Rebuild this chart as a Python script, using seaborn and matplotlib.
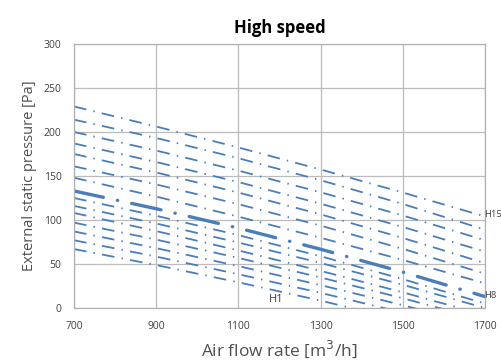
import seaborn as sns
import matplotlib.pyplot as plt
import pandas as pd

# air flow points [m3/h]
flow = [700, 900, 1100, 1300, 1500, 1700]

# pressure curves [Pa], H1 (bottom) .. H15 (top)
h1 = [67, 48.8, 29.2, 8.4, -14.2, -37]
h2 = [77, 58.4, 38.4, 17.2, -5.2, -29]
h3 = [87, 68, 47.6, 26, 3.2, -21]
h4 = [97, 77.7, 56.9, 34.7, 11.1, -14]
h5 = [108, 87.4, 65.4, 42.2, 17.8, -8]
h6 = [116, 96, 74.4, 51.2, 26.4, 0]
h7 = [125, 104.8, 82.8, 58.8, 32.8, 5]
h8 = [133, 112.8, 90.8, 66.8, 40.8, 13]
h9 = [148, 126.6, 103.8, 79.8, 54.6, 28]
h10 = [161, 140.4, 118, 93.6, 67.2, 39]
h11 = [175, 154, 131.2, 106.4, 79.6, 51]
h12 = [187, 165.9, 143.1, 118.5, 92.1, 64]
h13 = [200, 178.9, 156.1, 131.5, 105.1, 77]
h14 = [214, 193.2, 170.2, 145.2, 118.2, 89]
h15 = [229, 206.2, 182.4, 157.4, 131.2, 104]

curves = {'H1': h1, 'H2': h2, 'H3': h3, 'H4': h4, 'H5': h5, 'H6': h6,
          'H7': h7, 'H8': h8, 'H9': h9, 'H10': h10, 'H11': h11,
          'H12': h12, 'H13': h13, 'H14': h14, 'H15': h15}

rows = []
for name, vals in curves.items():
    for f, p in zip(flow, vals):
        rows.append({'curve': name, 'flow': f, 'pressure': p})
df = pd.DataFrame(rows)

sns.set_style('white')
plt.rcParams['font.family'] = ['Open Sans', 'DejaVu Sans']

blue = '#4a7ebb'
grey = '#404040'

fig = plt.figure(figsize=(5.02, 3.63), dpi=100)
ax = fig.add_axes([0.1474, 0.1515, 0.8187, 0.7273])

for name in curves:
    if name == 'H8':
        continue
    sub = df[df.curve == name]
    sns.lineplot(data=sub, x='flow', y='pressure', ax=ax, color=blue,
                 linewidth=1.3, linestyle=(0, (7, 4, 0.8, 4)),
                 dash_capstyle='butt')

# the bold one (H8)
sub = df[df.curve == 'H8']
sns.lineplot(data=sub, x='flow', y='pressure', ax=ax, color=blue,
             linewidth=2.4, linestyle=(0, (9, 4.3, 0.1, 4.3)),
             dash_capstyle='round')

ax.set_xlim(700, 1700)
ax.set_ylim(0, 300)
ax.set_xticks([700, 900, 1100, 1300, 1500, 1700])
ax.set_yticks([0, 50, 100, 150, 200, 250, 300])
ax.grid(True, color='#bcbcbc', linewidth=0.9)
for s in ax.spines.values():
    s.set_color('#b0b0b0')
    s.set_linewidth(0.9)
ax.tick_params(axis='both', length=4, width=0.9, color='#b0b0b0',
               labelsize=7.5, labelcolor=grey, pad=5)

ax.set_title('High speed', fontsize=12, fontweight='bold', color='black', pad=8)
ax.set_xlabel('Air flow rate [m$^3$/h]', fontsize=12.5, color='#505050', labelpad=5)
ax.set_ylabel('External static pressure [Pa]', fontsize=10.5, color='#505050', labelpad=5)

ax.text(1698, 106, 'H15', fontsize=6.8, color=grey, va='center', ha='left', clip_on=False)
ax.text(1698, 14, 'H8', fontsize=6.8, color=grey, va='center', ha='left', clip_on=False)
ax.text(1175, 10, 'H1', fontsize=8, color=grey, va='center', ha='left')

fig.savefig('out.png', dpi=100)
